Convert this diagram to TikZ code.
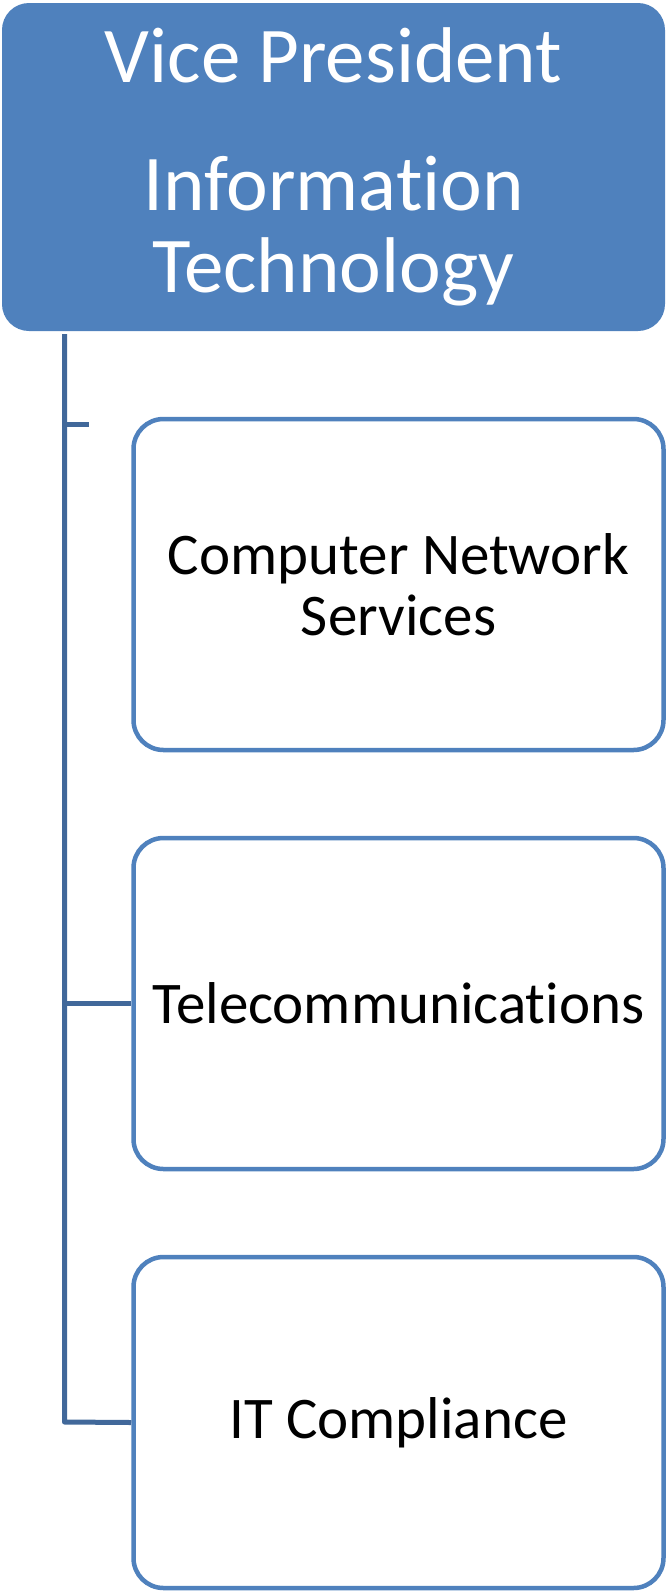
\documentclass[tikz,border=0pt]{standalone}
\usepackage{fontspec}
\setmainfont{Carlito}[Ligatures=NoCommon]
\definecolor{boxblue}{RGB}{79,129,189}
\definecolor{linkblue}{RGB}{65,104,154}
\tikzset{
  topbox/.style={draw=boxblue, fill=boxblue, line width=2pt, rounded corners=26pt,
    minimum width=661pt, minimum height=326pt, inner sep=0pt, text=white, align=center,
    font=\fontsize{79}{82}\selectfont},
  childbox/.style={draw=boxblue, fill=white, line width=4.5pt, rounded corners=30pt,
    minimum width=530pt, minimum height=331pt, inner sep=0pt, text=black, align=center,
    font=\fontsize{59}{61}\selectfont},
  link/.style={draw=linkblue, line width=5pt, line join=round}
}
\begin{document}
\begin{tikzpicture}[x=1pt,y=-1pt]
\useasboundingbox (0,0) rectangle (666,1591);
\node[topbox] (vp) at (333.5,167) {Vice President\\[46pt]Information\\Technology};
\node[childbox] (c1) at (398.5,584.5) {Computer Network\\Services};
\node[childbox] (c2) at (398.5,1003.5) {Telecommunications};
\node[childbox] (c3) at (398.5,1422.5) {IT Compliance};
\coordinate (top) at (64.5,334);
\coordinate (stub) at (89,424);
\draw[link] (top) -- (64.5,1422) -- (c3.west);
\draw[link] (64.5,424) -- (stub);
\draw[link] (64.5,1003.5) -- (c2.west);
\end{tikzpicture}
\end{document}
